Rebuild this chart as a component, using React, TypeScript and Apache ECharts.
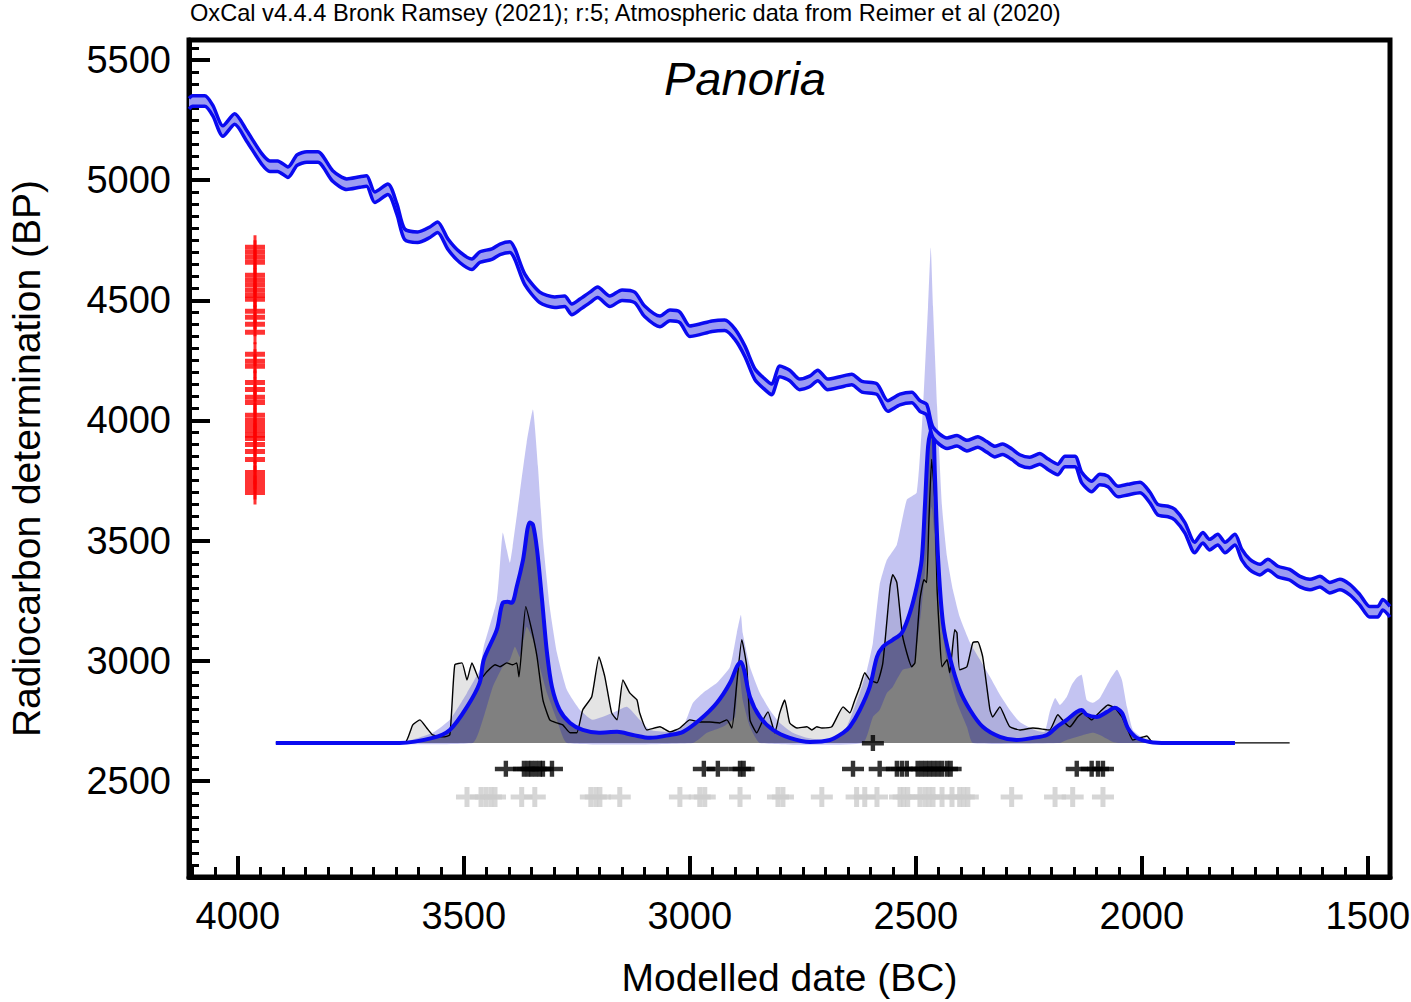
import React, { useEffect, useRef } from "react";
import * as echarts from "echarts";

const FONT = '"Liberation Sans", Arial, Helvetica, sans-serif';

const headerText =
  "OxCal v4.4.4 Bronk Ramsey (2021); r:5; Atmospheric data from Reimer et al (2020)";
const plotTitle = "Panoria";
const xAxisName = "Modelled date (BC)";
const yAxisName = "Radiocarbon determination (BP)";

// axis ranges (BC years, radiocarbon BP)
const xMinBC = 1451;
const xMaxBC = 4108;
const yMinBP = 2100;
const yMaxBP = 5583;

// calibration curve (IntCal20), [year BC, BP]
const calCurve: [number, number][] = [
  [4108, 5318], [4100, 5329], [4073, 5329], [4055, 5288], [4033, 5204], [4007, 5254],
  [3980, 5183], [3947, 5088], [3929, 5058], [3912, 5058], [3889, 5033], [3869, 5083],
  [3847, 5096], [3823, 5096], [3790, 5017], [3759, 4983], [3730, 4992], [3715, 4996],
  [3697, 4929], [3668, 4962], [3648, 4879], [3631, 4775], [3602, 4762], [3575, 4783],
  [3558, 4804], [3535, 4733], [3509, 4679], [3482, 4650], [3465, 4679], [3438, 4692],
  [3420, 4712], [3398, 4721], [3387, 4692], [3365, 4587], [3332, 4512], [3299, 4492],
  [3277, 4496], [3261, 4462], [3243, 4483], [3221, 4512], [3204, 4533], [3177, 4496],
  [3150, 4521], [3122, 4512], [3100, 4454], [3066, 4412], [3044, 4437], [3022, 4429],
  [3000, 4371], [2978, 4379], [2951, 4392], [2923, 4396], [2900, 4358], [2878, 4287],
  [2856, 4192], [2834, 4150], [2819, 4129], [2801, 4204], [2779, 4187], [2757, 4150],
  [2735, 4162], [2717, 4187], [2695, 4150], [2668, 4160], [2642, 4170], [2619, 4140],
  [2586, 4130], [2562, 4060], [2535, 4087], [2509, 4095], [2491, 4060], [2476, 4045],
  [2462, 3950], [2431, 3905], [2409, 3915], [2387, 3895], [2363, 3910], [2343, 3890],
  [2325, 3870], [2308, 3880], [2288, 3860], [2270, 3835], [2248, 3825], [2226, 3840],
  [2207, 3817], [2186, 3796], [2170, 3829], [2148, 3829], [2133, 3762], [2111, 3725],
  [2093, 3754], [2075, 3746], [2053, 3704], [2031, 3712], [2004, 3721], [1982, 3679],
  [1965, 3629], [1942, 3621], [1927, 3608], [1905, 3554], [1883, 3471], [1865, 3512],
  [1850, 3483], [1832, 3504], [1816, 3471], [1794, 3504], [1779, 3442], [1761, 3400],
  [1739, 3379], [1721, 3400], [1699, 3371], [1673, 3358], [1650, 3329], [1628, 3317],
  [1606, 3329], [1584, 3304], [1562, 3317], [1540, 3296], [1518, 3254], [1496, 3204],
  [1478, 3204], [1467, 3233], [1451, 3204],
];
const calHalfWidth = 22; // 1 sigma band of the curve, BP

// probability plots sit on this BP level; heights below are above it
const baselineBP = 2658;

// unmodelled summed probability, [year BC, height]
const summedProb: [number, number][] = [
  [3916, 0], [3631, 0], [3613, 75], [3597, 96], [3582, 62], [3569, 33], [3546, 25],
  [3531, 33], [3520, 325], [3504, 333], [3493, 262], [3482, 333], [3465, 262], [3449, 296],
  [3431, 325], [3420, 317], [3405, 333], [3392, 325], [3383, 333], [3378, 275], [3363, 567],
  [3350, 471], [3338, 358], [3325, 179], [3310, 96], [3294, 83], [3281, 75], [3265, 42],
  [3250, 42], [3237, 137], [3217, 192], [3201, 358], [3188, 275], [3173, 125], [3161, 96],
  [3148, 262], [3133, 208], [3117, 179], [3111, 125], [3095, 54], [3066, 67], [3044, 46],
  [3022, 62], [3000, 96], [2978, 87], [2956, 87], [2934, 83], [2918, 96], [2907, 62],
  [2896, 250], [2885, 429], [2874, 317], [2867, 96], [2852, 42], [2838, 96], [2827, 129],
  [2812, 42], [2801, 125], [2790, 179], [2779, 83], [2763, 62], [2741, 67], [2730, 54],
  [2719, 67], [2708, 62], [2686, 67], [2661, 150], [2646, 125], [2635, 179], [2624, 233],
  [2613, 292], [2602, 262], [2586, 250], [2573, 333], [2557, 650], [2551, 700], [2542, 667],
  [2529, 442], [2509, 317], [2502, 333], [2491, 596], [2482, 679], [2476, 667], [2471, 929],
  [2465, 1180], [2458, 1012], [2453, 637], [2447, 429], [2442, 317], [2431, 346], [2425, 292],
  [2414, 471], [2409, 458], [2403, 304], [2387, 317], [2374, 417], [2363, 421], [2352, 358],
  [2336, 137], [2330, 108], [2314, 150], [2303, 108], [2292, 67], [2270, 54], [2241, 62],
  [2204, 54], [2186, 117], [2170, 83], [2159, 67], [2142, 108], [2130, 125], [2111, 96],
  [2093, 129], [2075, 158], [2060, 146], [2044, 108], [2031, 54], [2020, 12], [2004, 21],
  [1989, 29], [1978, 4], [1971, 0], [1673, 0],
];

// KDE model: upper (+1 sigma), lower (-1 sigma) and mean, [year BC, height]
const kdeUpper: [number, number][] = [
  [3916, 0], [3642, 0], [3569, 42], [3531, 96], [3493, 208], [3465, 304], [3456, 400],
  [3427, 596], [3414, 875], [3405, 804], [3398, 750], [3392, 817], [3376, 1042], [3361, 1250],
  [3347, 1387], [3336, 1150], [3325, 846], [3310, 567], [3294, 375], [3272, 221], [3243, 137],
  [3215, 96], [3170, 125], [3139, 150], [3111, 96], [3088, 54], [3044, 46], [3015, 67],
  [2993, 167], [2971, 208], [2940, 250], [2911, 317], [2896, 458], [2887, 533], [2883, 458],
  [2867, 317], [2845, 208], [2823, 137], [2801, 83], [2772, 42], [2741, 21], [2706, 12],
  [2675, 25], [2653, 67], [2624, 208], [2608, 304], [2595, 417], [2580, 658], [2564, 762],
  [2542, 825], [2520, 1012], [2498, 1042], [2484, 1400], [2473, 1817], [2467, 2062],
  [2462, 1817], [2453, 1400], [2442, 983], [2431, 775], [2418, 637], [2403, 525], [2380, 417],
  [2358, 346], [2336, 275], [2314, 200], [2292, 137], [2270, 87], [2237, 54], [2215, 46],
  [2204, 129], [2192, 187], [2181, 158], [2166, 192], [2155, 242], [2144, 271], [2133, 283],
  [2122, 179], [2108, 167], [2093, 187], [2071, 262], [2055, 304], [2044, 262], [2033, 150],
  [2020, 54], [1998, 21], [1976, 0], [1794, 0],
];
const kdeLower: [number, number][] = [
  [3916, 0], [3480, 0], [3458, 96], [3436, 233], [3414, 317], [3398, 346], [3387, 400],
  [3376, 358], [3361, 483], [3347, 429], [3332, 317], [3316, 208], [3294, 96], [3272, 0],
  [2993, 0], [2962, 42], [2927, 67], [2900, 108], [2892, 317], [2883, 179], [2867, 67],
  [2845, 0], [2617, 0], [2595, 108], [2580, 137], [2564, 208], [2551, 233], [2529, 304],
  [2507, 317], [2496, 429], [2487, 567], [2480, 708], [2465, 983], [2453, 700], [2440, 450],
  [2431, 330], [2425, 275], [2409, 167], [2387, 67], [2374, 0], [2181, 0], [2166, 12],
  [2130, 33], [2108, 42], [2093, 33], [2064, 4], [2053, 0], [1794, 0],
];
const kdeMean: [number, number][] = [
  [3916, 0], [3642, 0], [3569, 21], [3531, 54], [3493, 150], [3465, 250], [3456, 346],
  [3427, 471], [3414, 583], [3403, 587], [3394, 583], [3383, 650], [3369, 762], [3354, 917],
  [3347, 908], [3338, 804], [3327, 596], [3316, 375], [3305, 233], [3288, 137], [3265, 83],
  [3237, 54], [3201, 42], [3161, 46], [3126, 33], [3088, 21], [3044, 33], [3015, 46],
  [2978, 96], [2940, 167], [2911, 250], [2896, 317], [2887, 337], [2880, 304], [2867, 192],
  [2845, 108], [2816, 54], [2779, 21], [2734, 4], [2690, 12], [2661, 42], [2646, 67],
  [2624, 137], [2602, 233], [2586, 358], [2573, 400], [2551, 429], [2531, 458], [2513, 542],
  [2498, 650], [2487, 762], [2480, 983], [2473, 1233], [2467, 1296], [2462, 1304],
  [2458, 1125], [2451, 775], [2440, 500], [2425, 358], [2403, 221], [2380, 137], [2352, 67],
  [2314, 25], [2277, 12], [2241, 21], [2210, 33], [2188, 67], [2166, 96], [2144, 129],
  [2133, 137], [2122, 117], [2100, 108], [2077, 129], [2060, 146], [2044, 125], [2031, 62],
  [2011, 21], [1982, 4], [1945, 0], [1794, 0],
];

// radiocarbon determinations (red crosses on the BP axis)
const redDateYearBC = 3962;
const radiocarbonBP: number[] = [
  4721, 4700, 4679, 4658, 4604, 4583, 4563, 4542, 4521, 4504, 4454, 4429, 4400, 4367,
  4275, 4246, 4225, 4158, 4129, 4096, 4075, 4021, 4000, 3979, 3958, 3938, 3925, 3900,
  3871, 3837, 3783, 3762, 3742, 3721, 3700,
];

// modelled medians (black crosses)
const modelledRowBP = 2550;
const modelledYears: number[] = [
  3407, 3367, 3358, 3350, 3341, 3332, 3325, 3305,
  2969, 2938, 2889, 2881,
  2639, 2580, 2542, 2531, 2520, 2496, 2487, 2478, 2469, 2460, 2451, 2442, 2431, 2423,
  2144, 2111, 2097, 2086,
];
const extraCrossYear = 2595; // single black cross on the baseline

// unmodelled medians (grey crosses)
const unmodelledRowBP = 2433;
const unmodelledYears: number[] = [
  3493, 3462, 3451, 3440, 3431, 3372, 3343, 3219, 3208, 3199, 3155, 3022, 2978, 2967,
  2889, 2805, 2794, 2708, 2631, 2613, 2586, 2535, 2527, 2518, 2491, 2480, 2471, 2462,
  2442, 2420, 2403, 2394, 2385, 2288, 2192, 2153, 2086,
];

type Pt = [number, number];
const lift = (pts: Pt[]): Pt[] => pts.map(([x, h]) => [x, baselineBP + h] as Pt);

function polygonSeries(pts: Pt[], fill: string, z: number, smooth = 0) {
  return {
    type: "custom",
    coordinateSystem: "cartesian2d",
    clip: true,
    silent: true,
    z,
    data: [pts[0]],
    renderItem: (_p: any, api: any) => ({
      type: "polygon",
      shape: { points: pts.map((p) => api.coord(p)), smooth },
      style: { fill },
    }),
  };
}

function lineSeries(pts: Pt[], color: string, width: number, z: number, smooth = 0) {
  return {
    type: "line",
    data: pts,
    symbol: "none",
    showSymbol: false,
    silent: true,
    smooth,
    z,
    lineStyle: { color, width },
  };
}

export default function App() {
  const ref = useRef<HTMLDivElement>(null);

  useEffect(() => {
    if (!ref.current) return;
    const chart = echarts.init(ref.current, undefined, { renderer: "svg" });

    const calUpper: Pt[] = calCurve.map(([x, y]) => [x, y + calHalfWidth]);
    const calLower: Pt[] = calCurve.map(([x, y]) => [x, y - calHalfWidth]);
    const sumPts = lift(summedProb);
    const upperPts = lift(kdeUpper);
    const lowerPts = lift(kdeLower);
    const meanPts = lift(kdeMean);

    const axisCommon = {
      type: "value",
      splitNumber: 6,
      axisLine: { show: true, lineStyle: { color: "#000", width: 5 } },
      axisTick: { show: true, inside: true, length: 21, lineStyle: { color: "#000", width: 4 } },
      minorTick: { show: true, splitNumber: 10, length: 10, lineStyle: { color: "#000", width: 3 } },
      splitLine: { show: false },
      minorSplitLine: { show: false },
    };

    const option: any = {
      animation: false,
      textStyle: { fontFamily: FONT },
      grid: {
        left: 189,
        right: 21,
        top: 40,
        bottom: 125,
        containLabel: false,
        outerBoundsMode: "none",
        show: true,
        borderColor: "#000",
        borderWidth: 5,
        backgroundColor: "transparent",
      },
      xAxis: {
        ...axisCommon,
        min: xMinBC,
        max: xMaxBC,
        inverse: true,
        axisLabel: {
          color: "#000",
          fontSize: 38,
          fontFamily: FONT,
          margin: 20,
          formatter: (v: number) => (v % 500 === 0 ? String(v) : ""),
        },
        name: xAxisName,
        nameLocation: "middle",
        nameGap: 81,
        nameTextStyle: { color: "#000", fontSize: 39, fontFamily: FONT },
      },
      yAxis: {
        ...axisCommon,
        min: yMinBP,
        max: yMaxBP,
        axisLabel: {
          color: "#000",
          fontSize: 38,
          fontFamily: FONT,
          margin: 18,
          formatter: (v: number) => (v % 500 === 0 ? String(v) : ""),
        },
        name: yAxisName,
        nameLocation: "middle",
        nameGap: 143,
        nameTextStyle: { color: "#000", fontSize: 39, fontFamily: FONT },
      },
      graphic: [
        {
          type: "text",
          x: 190,
          y: 13,
          style: {
            text: headerText,
            fill: "#000",
            fontSize: 23.6,
            fontFamily: FONT,
            align: "left",
            verticalAlign: "middle",
          },
        },
        {
          type: "text",
          x: 745,
          y: 78,
          style: {
            text: plotTitle,
            fill: "#000",
            fontSize: 47,
            fontStyle: "italic",
            fontFamily: FONT,
            align: "center",
            verticalAlign: "middle",
          },
        },
      ],
      series: [
        // probability distributions
        polygonSeries(sumPts, "#e4e4e4", 2, 0.15),
        polygonSeries(meanPts, "#808080", 3, 0.3),
        polygonSeries([...upperPts, ...[...lowerPts].reverse()], "rgba(0,0,200,0.23)", 4, 0.15),
        lineSeries(sumPts, "#000", 1.4, 5, 0.15),
        lineSeries(meanPts, "#0a0af0", 4, 6, 0.3),
        // calibration curve
        polygonSeries([...calUpper, ...[...calLower].reverse()], "#9c9cf2", 7, 0.25),
        lineSeries(calUpper, "#0a0af0", 3.5, 8, 0.25),
        lineSeries(calLower, "#0a0af0", 3.5, 8, 0.25),
        // crosses
        {
          type: "scatter",
          silent: true,
          z: 9,
          data: unmodelledYears.map((x) => [x, unmodelledRowBP]),
          symbol: "path://M0,7.5H22V12.5H0ZM8.5,0H13.5V20H8.5Z",
          symbolSize: [22, 20],
          itemStyle: { color: "#cccccc" },
        },
        {
          type: "scatter",
          silent: true,
          z: 10,
          data: [...modelledYears.map((x) => [x, modelledRowBP]), [extraCrossYear, baselineBP]],
          symbol: "path://M0,6H22V10.5H0ZM8.8,0H13.2V16H8.8Z",
          symbolSize: [22, 16],
          itemStyle: { color: "#000" },
        },
        {
          type: "scatter",
          silent: true,
          z: 10,
          data: radiocarbonBP.map((y) => [redDateYearBC, y]),
          symbol: "path://M0,9.5H20V14.5H0ZM8.5,0H11.5V24H8.5Z",
          symbolSize: [20, 24],
          itemStyle: { color: "#ff0000" },
        },
      ],
    };

    chart.setOption(option);
    return () => chart.dispose();
  }, []);

  return (
    <div
      ref={ref}
      style={{ position: "absolute", left: 0, top: 0, width: 1411, height: 1002, background: "#fff" }}
    />
  );
}
